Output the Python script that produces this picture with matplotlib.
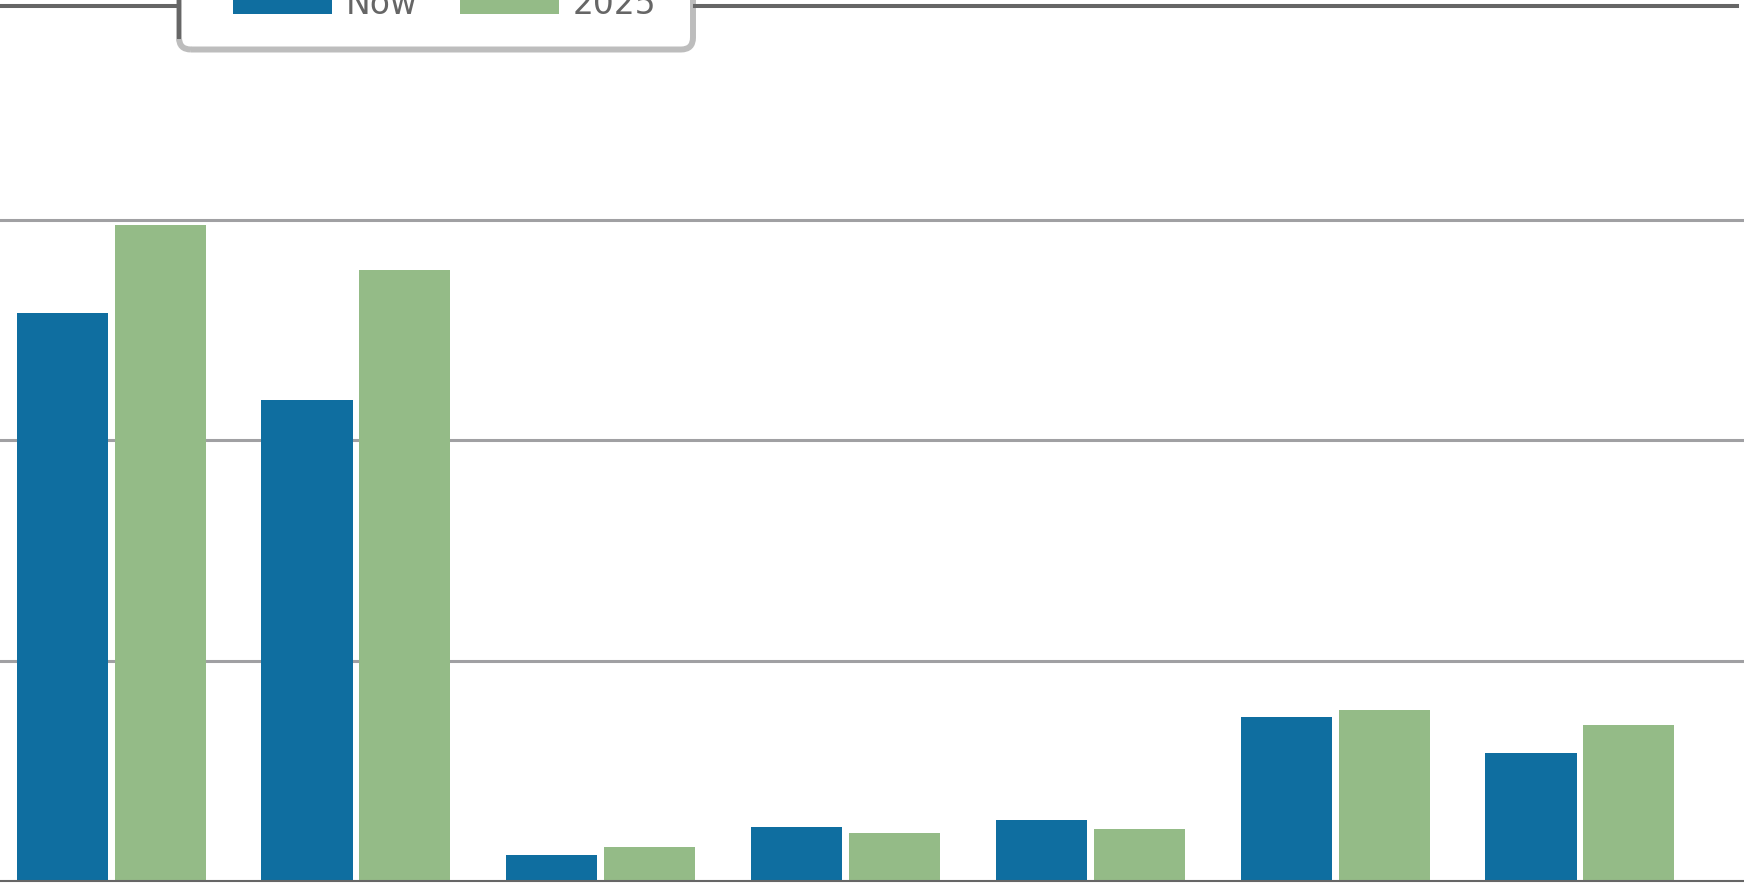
import matplotlib
matplotlib.use("Agg")
import matplotlib.pyplot as plt
import numpy as np
from matplotlib.patches import FancyBboxPatch
from matplotlib.lines import Line2D
from matplotlib.transforms import IdentityTransform

# data (gridlines = 1 unit)
groups = ["A", "B", "C", "D", "E", "F", "G"]
now_vals = [2.579, 2.184, 0.120, 0.247, 0.279, 0.742, 0.583]
y2025_vals = [2.975, 2.770, 0.152, 0.216, 0.234, 0.774, 0.710]
series_names = ["Now", "2025"]

BLUE = "#0f6ea0"
GREEN = "#94bb87"
DARK = "#666666"
W, H = 1744, 883

fig = plt.figure(figsize=(W / 100, H / 100), dpi=100)
ax = fig.add_axes([0, 0, 1, 1])

x = np.arange(len(groups))
bw = 0.372
off = 0.2
b1 = ax.bar(x - off, now_vals, bw, color=BLUE, zorder=3, label=series_names[0])
b2 = ax.bar(x + off, y2025_vals, bw, color=GREEN, zorder=3, label=series_names[1])

ax.set_xlim(-0.454, 6.670)
unit = 220.4
ax.set_ylim(-2.0 / unit, (H - 2.0) / unit)

for g in [1, 2, 3]:
    ax.axhline(g, color="#a0a0a3", lw=2.2, zorder=1)
ax.axhline(0, color=DARK, lw=1.5, zorder=4)

for s in ax.spines.values():
    s.set_visible(False)
ax.set_xticks([])
ax.set_yticks([])

# legend (its top is cut off by the figure edge, as in the original)
fig.legend(handles=[b1, b2], ncol=2, frameon=False, loc="lower left",
           bbox_to_anchor=(233 / W, 1 - 20.5 / H), bbox_transform=fig.transFigure,
           borderpad=0, borderaxespad=0, handlelength=3.0, handleheight=0.7,
           handletextpad=0.4, columnspacing=1.3,
           prop={"family": "DejaVu Sans", "size": 23.8}, labelcolor=DARK)

px = IdentityTransform()
frame = FancyBboxPatch((179, H - 49.5), 514, 120,
                       boxstyle="round,pad=0,rounding_size=12",
                       facecolor="none", edgecolor="#bdbdbd", lw=4.3,
                       transform=px, zorder=1)
fig.add_artist(frame)
fig.add_artist(Line2D([0, 179], [H - 6, H - 6], color=DARK, lw=2.9, transform=px))
fig.add_artist(Line2D([695, 1737], [H - 6, H - 6], color=DARK, lw=2.9, transform=px))
fig.add_artist(Line2D([179, 179], [H, H - 37], color=DARK, lw=2.9, transform=px))

fig.savefig("out.png", dpi=100)
